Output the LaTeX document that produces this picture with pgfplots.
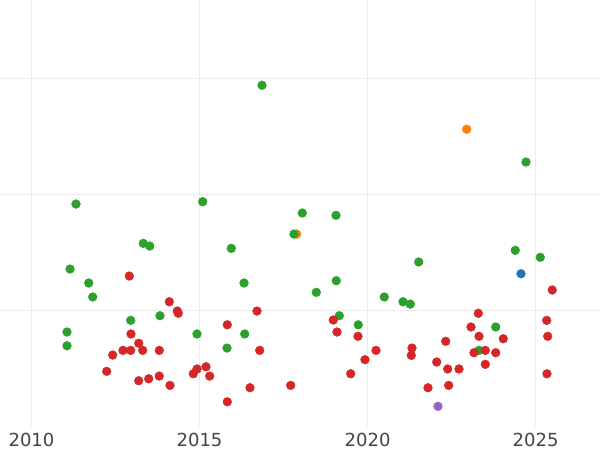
\documentclass[border=0pt]{standalone}
\usepackage{pgfplots}
\pgfplotsset{compat=1.18}
\usepackage{fontspec}
\setmainfont{DejaVu Sans}
\definecolor{tgreen}{HTML}{2CA02C}
\definecolor{tred}{HTML}{D62728}
\definecolor{torange}{HTML}{FF7F0E}
\definecolor{tblue}{HTML}{1F77B4}
\definecolor{tpurple}{HTML}{9467BD}
\definecolor{gridc}{HTML}{EBEBEB}
\definecolor{labc}{HTML}{444444}
\begin{document}
\begin{tikzpicture}
\useasboundingbox (0,-24bp) rectangle (600bp,426bp);
\begin{axis}[
  at={(0,0)}, anchor=south west,
  scale only axis, width=600bp, height=426bp,
  xmin=2009.063, xmax=2026.915, ymin=-0.99, ymax=2.672,
  xtick={2010,2015,2020,2025},
  xticklabels={2010,2015,2020,2025},
  ytick={0,1,2}, yticklabels={},
  grid=major, major grid style={color=gridc, line width=1.1bp},
  axis line style={draw=none},
  major tick length=0pt,
  xticklabel style={font=\fontsize{18bp}{20bp}\selectfont, text=labc, anchor=north, inner sep=0pt, yshift=-6.5bp},
  clip=true,
]
\addplot[only marks, mark=*, mark size=4.4bp, mark options={draw=torange, fill=torange}] coordinates {
(2017.890,0.660) (2022.949,1.561)
};
\addplot[only marks, mark=*, mark size=4.4bp, mark options={draw=tgreen, fill=tgreen}] coordinates {
(2011.324,0.918) (2011.146,0.359) (2011.702,0.239) (2011.821,0.119)
(2013.326,0.580) (2013.517,0.557) (2013.823,-0.042) (2012.952,-0.082)
(2011.056,-0.182) (2011.056,-0.300) (2014.924,-0.199) (2015.094,0.938)
(2018.057,0.841) (2019.060,0.821) (2017.810,0.660) (2015.945,0.537)
(2016.323,0.239) (2019.069,0.259) (2018.474,0.159) (2019.158,-0.042)
(2019.723,-0.120) (2016.343,-0.199) (2015.817,-0.320) (2024.394,0.520)
(2025.138,0.460) (2021.520,0.420) (2020.497,0.119) (2021.053,0.078)
(2021.270,0.058) (2023.811,-0.139) (2023.315,-0.340) (2024.713,1.279)
(2016.858,1.939)
};
\addplot[only marks, mark=*, mark size=4.4bp, mark options={draw=tred, fill=tred}] coordinates {
(2012.910,0.299) (2014.100,0.078) (2014.338,-0.002) (2014.368,-0.021)
(2012.960,-0.199) (2013.190,-0.279) (2012.416,-0.380) (2012.722,-0.340)
(2012.952,-0.340) (2013.309,-0.340) (2013.802,-0.340) (2012.237,-0.520)
(2013.190,-0.601) (2013.487,-0.584) (2013.802,-0.561) (2014.121,-0.641)
(2014.814,-0.541) (2014.924,-0.500) (2016.709,-0.002) (2015.826,-0.120)
(2018.980,-0.079) (2019.089,-0.182) (2019.714,-0.219) (2016.790,-0.340)
(2020.250,-0.340) (2019.923,-0.420) (2015.192,-0.481) (2015.302,-0.561)
(2019.497,-0.541) (2016.501,-0.661) (2017.712,-0.641) (2015.826,-0.782)
(2025.495,0.179) (2023.294,-0.021) (2025.329,-0.082) (2023.077,-0.139)
(2023.315,-0.219) (2025.359,-0.219) (2024.037,-0.240) (2022.324,-0.262)
(2021.321,-0.320) (2021.300,-0.383) (2023.166,-0.360) (2023.502,-0.340)
(2023.811,-0.360) (2022.056,-0.440) (2023.502,-0.460) (2022.383,-0.500)
(2022.720,-0.500) (2025.337,-0.541) (2021.797,-0.661) (2022.413,-0.641)
};
\addplot[only marks, mark=*, mark size=4.4bp, mark options={draw=tblue, fill=tblue}] coordinates {
(2024.564,0.319)
};
\addplot[only marks, mark=*, mark size=4.4bp, mark options={draw=tpurple, fill=tpurple}] coordinates {
(2022.095,-0.821)
};
\end{axis}
\end{tikzpicture}
\end{document}
